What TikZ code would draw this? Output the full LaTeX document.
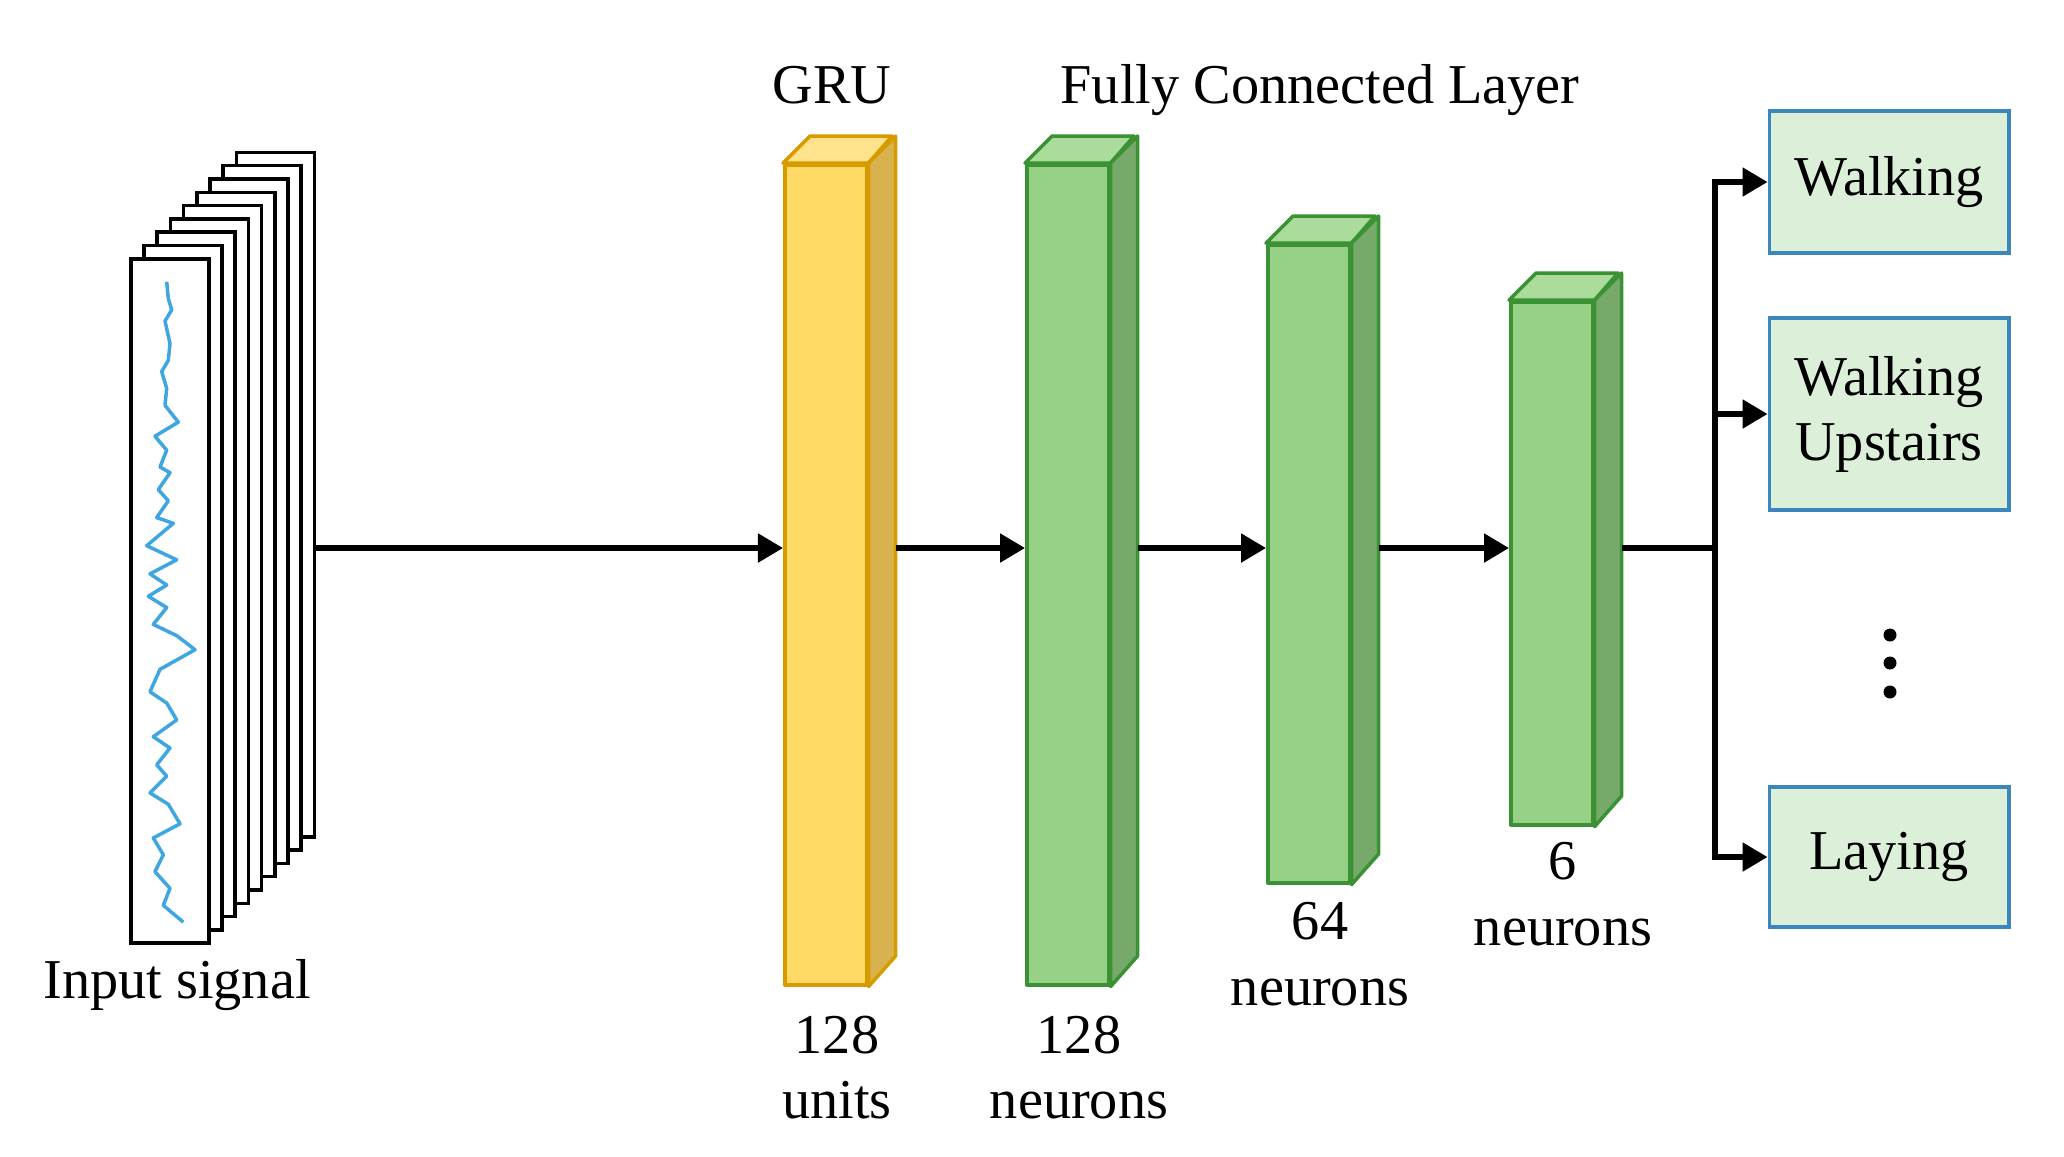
\documentclass[tikz,border=0pt]{standalone}
\usepackage{fontspec}
\setmainfont{Liberation Serif}
\usetikzlibrary{arrows.meta,calc}
\definecolor{frontgru}{HTML}{FFD966}
\definecolor{topgru}{HTML}{FFE28C}
\definecolor{sidegru}{HTML}{D8B24E}
\definecolor{linegru}{HTML}{D79B00}
\definecolor{frontfc}{HTML}{97D186}
\definecolor{topfc}{HTML}{ACDC9C}
\definecolor{sidefc}{HTML}{77AA6A}
\definecolor{linefc}{HTML}{3A9234}
\definecolor{clsfill}{HTML}{DBEFD9}
\definecolor{clsline}{HTML}{3A86BD}
\definecolor{wave}{HTML}{3FA6E2}

\begin{document}
\begin{tikzpicture}[x=0.01cm,y=-0.01cm,font=\fontsize{16}{18.5}\selectfont]
\tikzstyle{sheet}=[draw=black,fill=white,line width=1pt,minimum width=0.78cm,minimum height=6.84cm,inner sep=0pt]
\tikzstyle{block}=[line width=1pt,minimum width=0.82cm,inner sep=0pt,line join=round]
\tikzstyle{conn}=[line width=1.5pt,-{Triangle[length=0.25cm,width=0.28cm]}]
\tikzstyle{cls}=[draw=clsline,fill=clsfill,line width=1.1pt,minimum width=2.39cm,inner sep=0pt,align=center]
\tikzstyle{dot}=[circle,fill=black,minimum size=0.13cm,inner sep=0pt]
\useasboundingbox (0,0) rectangle (2064,1156);
\foreach \i in {8,...,0}
	\node[sheet,anchor=north west] (sig\i) at (129+13.2*\i,257-13.3*\i) {};
\draw[wave,line width=1pt,line join=round] plot coordinates {
	(166.7,281.7) (168.3,298.5) (171.7,309.8) (165,321) (170,343.5) (168.3,360.3)
	(161.7,371.6) (166.7,388.4) (165,405.3) (178.3,422.1) (155,436.2) (166.7,450.2)
	(160,467) (170,472.7) (158.3,489.6) (168.3,500.8) (156.7,517.6) (173.3,523.3)
	(146.7,545.7) (176.7,559.8) (150,573.8) (166.7,585) (148.3,596.3) (166.7,607.5)
	(153.3,624.4) (176.7,635.6) (195,649.7) (160,669.3) (150,691.8) (166.7,703)
	(176.7,719.9) (153.3,736.7) (170,748) (156.7,764.8) (166.7,776.1) (150,792.9)
	(168.3,804.2) (180,823.8) (153.3,837.9) (163.3,854.8) (155,871.6) (170,888.4)
	(163.3,905.3) (183.3,922.1)};
\node[anchor=base] (sig-lab) at (177,998) {Input signal};
\foreach \name/\x/\top/\h/\fc in {
	gru/783/163/820/gru,
	fc1/1025/163/820/fc,
	fc2/1266/243/638/fc,
	fc3/1509/300/523/fc}{
	\node[block,draw=line\fc,fill=front\fc,minimum height=\h*0.01cm,anchor=north west] (\name) at (\x,\top) {};
	\draw[block,draw=line\fc,fill=top\fc] (\name.north west) -- ++(27,-27) -- ++(82,0) -- (\name.north east) -- cycle;
	\draw[block,draw=line\fc,fill=side\fc] (\name.north east) -- ++(27,-27) -- ++(0,\h) -- (\name.south east) -- cycle;
	\coordinate (\name-r) at ($(\name.east)+(27,0)$);
}
\foreach \name/\x/\y/\txt in {
	gru/837/1015/{128\\units},
	fc1/1079/1015/{128\\neurons},
	fc2/1320/902/{64\\neurons},
	fc3/1563/842/{6\\neurons}}
	\node[anchor=north,align=center,inner sep=0pt] (\name-lab) at (\x,\y) {\txt};
\node[anchor=base] (gru-title) at (832,103) {GRU};
\node[anchor=base] (fc-title) at (1320,103) {Fully Connected Layer};
\node[cls,minimum height=1.42cm] (walk) at (1889,182) {Walking};
\node[cls,minimum height=1.92cm] (upst) at (1889,414) {Walking\\Upstairs};
\node[cls,minimum height=1.40cm] (lay) at (1889,857) {Laying};
\foreach \i/\y in {1/635,2/663,3/692}
	\node[dot] (dot\i) at (1890,\y) {};
\coordinate (axis) at (0,548);
\coordinate (split) at (1715,548);
\draw[conn] (sig8.east |- axis) -- (gru.west |- axis);
\draw[conn] (gru-r |- axis) -- (fc1.west |- axis);
\draw[conn] (fc1-r |- axis) -- (fc2.west |- axis);
\draw[conn] (fc2-r |- axis) -- (fc3.west |- axis);
\draw[line width=1.5pt] (fc3-r |- axis) -- (split);
\draw[line width=1.5pt,line cap=rect] (split |- walk.west) -- (split |- lay.west);
\foreach \c in {walk,upst,lay}
	\draw[conn] (split |- \c.west) -- (\c.west);
\end{tikzpicture}
\end{document}
